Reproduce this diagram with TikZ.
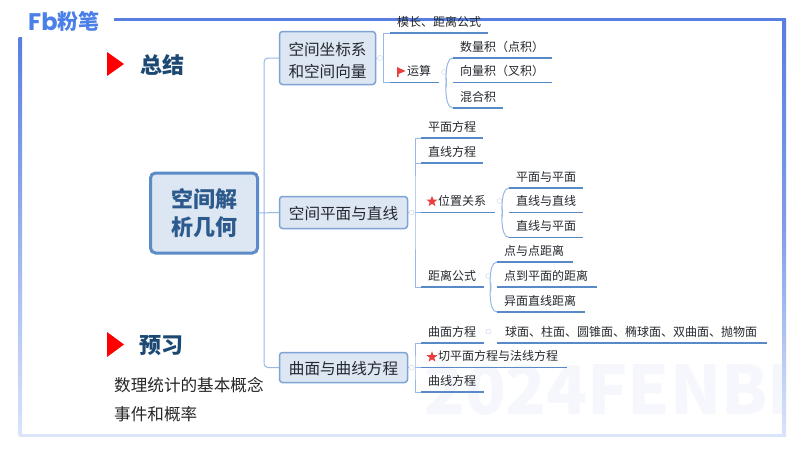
\documentclass[tikz,border=0pt]{standalone}
\usepackage{fontspec}
\setmainfont{Noto Sans CJK SC}
\newfontfamily\logofont{Poppins}
\usetikzlibrary{shapes.geometric}

\definecolor{framedark}{RGB}{88,126,226}
\definecolor{framepale}{RGB}{218,228,250}
\definecolor{logoblue}{RGB}{74,128,232}
\definecolor{titleblue}{RGB}{28,72,116}
\definecolor{rootblue}{RGB}{44,90,140}
\definecolor{boxfill}{RGB}{221,230,243}
\definecolor{rootedge}{RGB}{92,140,200}
\definecolor{boxedge}{RGB}{126,164,214}
\definecolor{leafline}{RGB}{88,138,200}
\definecolor{branchline}{RGB}{150,184,226}
\definecolor{inktext}{RGB}{36,40,46}
\definecolor{markred}{RGB}{232,64,62}
\definecolor{foldgray}{RGB}{214,222,236}
\definecolor{watermark}{RGB}{245,247,252}

\tikzset{
    rootbox/.style={draw=rootedge, fill=boxfill, line width=3pt, rounded corners=5pt, text=rootblue, align=center, inner sep=0pt,
        font=\fontsize{22}{28}\selectfont\bfseries},
    topicbox/.style={draw=boxedge, fill=boxfill, line width=1.5pt, rounded corners=3pt, text=inktext, align=center, inner sep=0pt,
        font=\fontsize{15.6}{22}\selectfont},
    leaf/.style={anchor=south west, inner xsep=7pt, inner ysep=0pt, minimum height=21pt, text height=10.5pt, text depth=2.5pt,
        align=left, text=inktext, font=\fontsize{12}{14}\selectfont},
    underline/.style={leafline, line width=1.3pt},
    branch/.style={branchline, line width=1pt},
    foldmark/.style={circle, draw=foldgray, line width=0.6pt, minimum size=5pt, inner sep=0pt},
    redstar/.style={star, star points=5, star point ratio=2.4, fill=markred, minimum size=11.5pt, inner sep=0pt},
    headline/.style={anchor=west, inner sep=0pt, text=titleblue, font=\fontsize{22}{26}\selectfont\bfseries},
    plainline/.style={anchor=west, inner sep=0pt, text=black!85, font=\fontsize{16.6}{20}\selectfont}
}

\begin{document}
\begin{tikzpicture}[x=1pt, y=-1pt]
    \useasboundingbox (0,0) rectangle (800,450);
    \fill[white] (0,0) rectangle (800,450);

    % watermark and frame
    \node[anchor=west, inner sep=0pt, text=watermark, font=\fontsize{67}{72}\selectfont\bfseries] (mark) at (424,390) {2024FENBI};
    \shade[top color=framedark, bottom color=framepale] (18.5,37) rectangle (22,435);
    \shade[top color=framedark, bottom color=framepale, middle color=framedark!70!framepale] (782.5,19) rectangle (786,435);
    \fill[framedark] (114,17.5) rectangle (786,21);
    \fill[framepale] (18.5,433.5) rectangle (786,436.5);

    % logo
    \node[anchor=west, inner sep=0pt, text=logoblue, font=\logofont\fontsize{24}{24}\selectfont\bfseries] (logofb) at (28,21.5) {Fb};
    \node[anchor=west, inner sep=0pt, text=logoblue, font=\fontsize{21}{24}\selectfont\bfseries] (logotext) at (57,21.5) {粉笔};

    % left column
    \fill[red] (107,52) -- (124,64) -- (107,76) -- cycle;
    \fill[red] (107,332) -- (124,344.5) -- (107,357) -- cycle;
    \node[headline] (zongjie) at (140,65) {总结};
    \node[headline] (yuxi) at (139,346) {预习};
    \node[plainline] (gainian) at (114,385) {数理统计的基本概念};
    \node[plainline] (gailv) at (114,414) {事件和概率};

    % root and topics
    \node[rootbox, minimum width=107pt, minimum height=80pt] (root) at (204,213) {空间解\\析几何};
    \node[topicbox, minimum width=96pt, minimum height=53pt] (zuobiao) at (327.5,58) {\rule{0pt}{17.7pt}空间坐标系\\和空间向量};
    \node[topicbox, minimum width=128pt, minimum height=32pt] (pingmian) at (343.5,212.5) {\rule{0pt}{16pt}空间平面与直线};
    \node[topicbox, minimum width=128pt, minimum height=30pt] (qumian) at (343.5,367.5) {\rule{0pt}{16pt}曲面与曲线方程};

    % leaves
    \node[leaf, text width=84pt] (mochang) at (390,33) {模长、距离公式};
    \node[leaf, text width=35pt] (yunsuan) at (390,82.5) {\hspace*{10pt}运算};
    \node[leaf, text width=85pt] (shuliang) at (453,58) {数量积（点积）};
    \node[leaf, text width=85pt] (xiangliang) at (453,82.5) {向量积（叉积）};
    \node[leaf, text width=36pt] (hunhe) at (453,108) {混合积};

    \node[leaf, text width=48pt] (pmfc) at (421,138) {平面方程};
    \node[leaf, text width=48pt] (zxfc) at (421,163) {直线方程};
    \node[leaf, text width=60pt] (weizhi) at (421,212.5) {\hspace*{10pt}位置关系};
    \node[leaf, text width=60pt] (pmypm) at (509,188) {平面与平面};
    \node[leaf, text width=60pt] (zxyzx) at (509,212.5) {直线与直线};
    \node[leaf, text width=60pt] (zxypm) at (509,237.5) {直线与平面};
    \node[leaf, text width=49pt] (juli) at (421,287) {距离公式};
    \node[leaf, text width=62pt] (ddjl) at (497,262) {点与点距离};
    \node[leaf, text width=86pt] (dpjl) at (497,287) {点到平面的距离};
    \node[leaf, text width=74pt] (ymjl) at (497,312) {异面直线距离};

    \node[leaf, text width=49pt] (qmfc) at (421,343) {曲面方程};
    \node[leaf, text width=256pt] (qmlist) at (497,343) {\hspace*{1pt}球面、柱面、圆锥面、椭球面、双曲面、抛物面};
    \node[leaf, text width=132pt] (qiefc) at (421,367.5) {\hspace*{10pt}切平面方程与法线方程};
    \node[leaf, text width=49pt] (qxfc) at (421,392) {曲线方程};

    % first level
    \coordinate (spine) at (264,213);
    \draw[branch] (root.east) -- (pingmian.west);
    \draw[branch, rounded corners=4pt] (zuobiao.west) -| (spine) |- (qumian.west);

    % second level
    \node[foldmark] (foldzb) at (380,58) {};
    \node[foldmark] (foldpm) at (411.5,212.5) {};
    \node[foldmark] (foldqm) at (411.5,367.5) {};
    \coordinate (stemzb) at (383.5,58);
    \coordinate (stempm) at (415,212.5);
    \coordinate (stemqm) at (415,367.5);
    \draw[branch] (zuobiao.east) -- (foldzb);
    \draw[branch] (pingmian.east) -- (foldpm);
    \draw[branch] (qumian.east) -- (foldqm);
    \draw[branch] (mochang.south west) -| (stemzb) |- (yunsuan.south west);
    \draw[branch] (pmfc.south west) -| (stempm) |- (juli.south west);
    \draw[branch] (zxfc.south west) -- (stempm |- zxfc.south west);
    \draw[branch] (weizhi.south west) -- (stempm);
    \draw[branch] (qmfc.south west) -| (stemqm) |- (qxfc.south west);
    \draw[branch] (qiefc.south west) -- (stemqm);

    % third level
    \node[foldmark] (foldys) at (444,72) {};
    \node[foldmark] (foldwz) at (499.5,201) {};
    \node[foldmark] (foldjl) at (488.5,276) {};
    \node[foldmark] (foldqf) at (488.5,331.5) {};
    \coordinate (bendys) at (446.5,82.5);
    \coordinate (bendwz) at (502.5,212.5);
    \coordinate (bendjl) at (491,287);
    \draw[branch] (shuliang.south west) to[out=180, in=-90] (bendys) to[out=90, in=180] (hunhe.south west);
    \draw[branch] (pmypm.south west) to[out=180, in=-90] (bendwz) to[out=90, in=180] (zxypm.south west);
    \draw[branch] (ddjl.south west) to[out=180, in=-90] (bendjl) to[out=90, in=180] (ymjl.south west);

    % underlines
    \draw[underline] (mochang.south west) -- (mochang.south east);
    \draw[underline] (yunsuan.south west) -- (yunsuan.south east);
    \draw[underline] (shuliang.south west) -- (shuliang.south east);
    \draw[underline] (xiangliang.south west) -- (xiangliang.south east);
    \draw[underline] (hunhe.south west) -- (hunhe.south east);
    \draw[underline] (pmfc.south west) -- (pmfc.south east);
    \draw[underline] (zxfc.south west) -- (zxfc.south east);
    \draw[underline] (weizhi.south west) -- (weizhi.south east);
    \draw[underline] (pmypm.south west) -- (pmypm.south east);
    \draw[underline] (zxyzx.south west) -- (zxyzx.south east);
    \draw[underline] (zxypm.south west) -- (zxypm.south east);
    \draw[underline] (juli.south west) -- (juli.south east);
    \draw[underline] (ddjl.south west) -- (ddjl.south east);
    \draw[underline] (dpjl.south west) -- (dpjl.south east);
    \draw[underline] (ymjl.south west) -- (ymjl.south east);
    \draw[underline] (qmfc.south west) -- (qmfc.south east);
    \draw[underline] (qmlist.south west) -- (qmlist.south east);
    \draw[underline] (qiefc.south west) -- (qiefc.south east);
    \draw[underline] (qxfc.south west) -- (qxfc.south east);

    % flag and stars
    \fill[markred] (397,67) -- (405.5,71) -- (398.5,74) -- (398.5,77) -- (397,77) -- cycle;
    \node[redstar] (starwz) at (432,201.5) {};
    \node[redstar] (starqf) at (432,357) {};
\end{tikzpicture}
\end{document}
